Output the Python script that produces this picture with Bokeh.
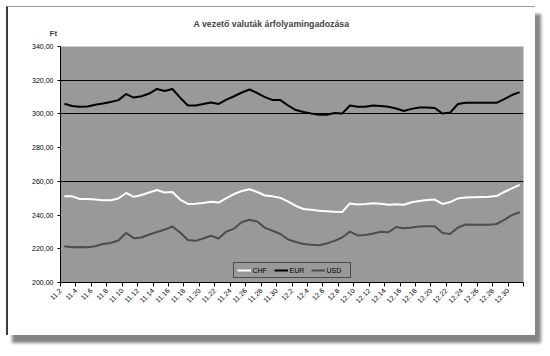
from math import pi
from bokeh.plotting import figure
from bokeh.models import (FixedTicker, Legend, LegendItem, Title, ColumnDataSource,
                          Range1d)
from bokeh.embed import file_html
from bokeh.resources import INLINE

# ---------------- data ----------------
dates = ["11.2", "11.3", "11.4", "11.5", "11.6", "11.7", "11.8", "11.9", "11.10",
         "11.11", "11.12", "11.13", "11.14", "11.15", "11.16", "11.17", "11.18",
         "11.19", "11.20", "11.21", "11.22", "11.23", "11.24", "11.25", "11.26",
         "11.27", "11.28", "11.29", "11.30",
         "12.1", "12.2", "12.3", "12.4", "12.5", "12.6", "12.7", "12.8", "12.9",
         "12.10", "12.11", "12.12", "12.13", "12.14", "12.15", "12.16", "12.17",
         "12.18", "12.19", "12.20", "12.21", "12.22", "12.23", "12.24", "12.25",
         "12.26", "12.27", "12.28", "12.29", "12.30", "12.31"]

chf = [251.2, 251.1, 249.5, 249.5, 249.3, 248.8, 248.8, 249.8, 253.1, 250.8,
       251.9, 253.4, 254.9, 253.4, 253.7, 249.2, 246.6, 246.7, 247.2, 247.9,
       247.4, 250.1, 252.5, 254.3, 255.3, 253.7, 251.6, 251.1, 250.2, 248.0,
       245.4, 243.6, 243.1, 242.5, 242.2, 241.9, 241.8, 246.9, 246.3, 246.6,
       247.0, 246.7, 246.1, 246.4, 246.1, 247.6, 248.3, 248.9, 249.2, 246.6,
       247.7, 249.9, 250.4, 250.6, 250.7, 250.8, 251.3, 253.7, 255.8, 257.9]

eur = [306.0, 304.7, 304.3, 304.4, 305.4, 306.2, 307.1, 308.2, 311.8, 309.7,
       310.5, 312.1, 314.8, 313.6, 314.8, 309.7, 305.0, 305.0, 305.9, 306.8,
       305.9, 308.5, 310.5, 312.7, 314.5, 312.4, 310.0, 308.2, 308.2, 305.0,
       302.3, 301.1, 300.2, 299.5, 299.5, 300.5, 300.2, 305.0, 304.2, 304.2,
       305.0, 304.7, 304.2, 303.2, 301.7, 303.0, 303.8, 303.8, 303.5, 300.2,
       300.8, 305.9, 306.6, 306.6, 306.6, 306.6, 306.6, 308.8, 311.2, 312.9]

usd = [221.5, 220.9, 221.1, 220.9, 221.5, 222.8, 223.4, 224.9, 229.4, 226.3,
       226.7, 228.5, 230.0, 231.4, 233.2, 229.7, 225.2, 224.7, 226.1, 227.7,
       226.1, 230.2, 232.0, 235.9, 237.2, 236.2, 232.4, 230.7, 228.8, 225.5,
       224.0, 222.8, 222.4, 222.1, 223.1, 224.7, 226.7, 230.2, 227.9, 228.2,
       229.1, 230.1, 229.8, 232.9, 232.2, 232.6, 233.2, 233.4, 233.4, 229.4,
       228.8, 232.6, 234.4, 234.3, 234.2, 234.2, 234.7, 237.1, 240.0, 241.7]

y_ticks = [200, 220, 240, 260, 280, 300, 320, 340]
grid_levels = [260, 300, 320]
series_names = ["CHF", "EUR", "USD"]
series_colors = ["#ffffff", "#000000", "#4d4d4d"]
title_text = "A vezető valuták árfolyamingadozása"
unit_text = "Ft"

# ---------------- figure ----------------
FONT = "Liberation Sans"
n = len(dates)
x = list(range(n))
src = ColumnDataSource(dict(x=x, date=dates, CHF=chf, EUR=eur, USD=usd))

p = figure(frame_width=463, frame_height=236,
           output_backend="svg", toolbar_location=None,
           x_range=Range1d(-0.5, n - 0.5), y_range=Range1d(y_ticks[0], y_ticks[-1]),
           background_fill_color="#999999", border_fill_color="white",
           min_border_left=52, min_border_right=12, min_border_top=39,
           min_border_bottom=53, outline_line_color=None)
p.styles = {"margin-left": "6px", "margin-top": "6px",
            "border-left": "2px solid #3c3c3c", "border-top": "1px solid #9a9a9a",
            "box-shadow": "6px 8px 3px #858585"}

# main title (outer), unit label "Ft" (closest to the frame)
p.title.text = title_text
p.title.align = "left"
p.title.offset = 133
p.title.text_font = FONT
p.title.text_font_size = "8.8px"
p.title.text_font_style = "bold"
p.title.standoff = -20

unit_title = Title(text=unit_text, align="left", offset=-11, text_font=FONT,
                   text_font_size="8px", text_font_style="bold", standoff=17)
p.add_layout(unit_title, "above")

# grid
p.xgrid.visible = False
p.ygrid.ticker = FixedTicker(ticks=grid_levels)
p.ygrid.grid_line_color = "black"
p.ygrid.grid_line_width = 1
p.ygrid.grid_line_alpha = 1

# x axis: ticks at category boundaries every 2 days
xticks = [i - 0.5 for i in range(0, n + 1, 2)]
p.xaxis.ticker = FixedTicker(ticks=xticks)
p.xaxis.major_label_overrides = {i - 0.5: dates[i] if i < n else "" for i in range(0, n + 1, 2)}
p.xaxis.major_label_orientation = pi / 4
p.xaxis.minor_tick_line_color = None
p.xaxis.major_tick_out = 4
p.xaxis.major_tick_in = 0
p.xaxis.major_label_standoff = 3
p.xaxis.axis_line_color = "black"
p.xaxis.major_label_text_font = FONT
p.xaxis.major_label_text_font_size = "7px"
p.xaxis.major_label_text_color = "black"

# y axis
p.yaxis.ticker = FixedTicker(ticks=y_ticks)
p.yaxis.major_label_overrides = {t: f"{t},00" for t in y_ticks}
p.yaxis.minor_tick_line_color = None
p.yaxis.major_tick_out = 3
p.yaxis.major_tick_in = 0
p.yaxis.major_label_standoff = 4
p.yaxis.axis_line_color = "black"
p.yaxis.major_label_text_font = FONT
p.yaxis.major_label_text_font_size = "7px"
p.yaxis.major_label_text_color = "black"

# lines
items = []
for name, col in zip(series_names, series_colors):
    r = p.line("x", name, source=src, line_color=col, line_width=2)
    items.append(LegendItem(label=name, renderers=[r]))

legend = Legend(items=items, orientation="horizontal", location="bottom_center",
                background_fill_color="#999999", background_fill_alpha=1,
                border_line_color="black", border_line_width=1,
                label_text_font=FONT, label_text_font_size="7px",
                label_text_color="black", glyph_width=14, glyph_height=8,
                label_height=8, label_standoff=2, spacing=1, padding=3, margin=4)
p.add_layout(legend)

open("out.html", "w").write(file_html(p, INLINE))
